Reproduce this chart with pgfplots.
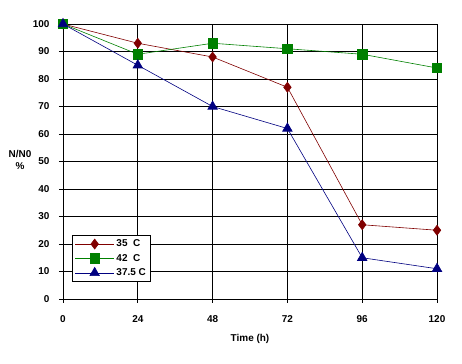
\documentclass[border=0pt]{standalone}
\usepackage{fontspec}
\setmainfont{Liberation Sans}
\usepackage{pgfplots}
\pgfplotsset{compat=1.18}
\definecolor{cRed}{RGB}{128,0,0}
\definecolor{cGreen}{RGB}{0,128,0}
\definecolor{cBlue}{RGB}{0,0,128}
\begin{document}
\begin{tikzpicture}
\useasboundingbox (0,0) rectangle (462bp,364bp);
\begin{axis}[
  scale only axis,
  width=374bp, height=275bp,
  at={(63bp,65bp)}, anchor=south west,
  xmin=0, xmax=120, ymin=0, ymax=100,
  xtick={0,24,48,72,96,120},
  ytick={0,10,...,100},
  grid=major,
  grid style={black, line width=0.8bp},
  axis line style={black, line width=0.8bp},
  tick style={black, line width=0.8bp},
  tick align=outside,
  major tick length=4bp,
  xtick pos=bottom, ytick pos=left,
  font=\fontsize{10}{12}\selectfont\bfseries,
  /pgf/number format/assume math mode=true,
  ticklabel style={font=\fontsize{10}{12}\selectfont\bfseries},
  xticklabel style={yshift=-9bp},
  yticklabel style={xshift=-6bp},
  xlabel={Time (h)},
  xlabel style={yshift=-5bp},
  ylabel={N/N0\\\%},
  ylabel style={rotate=-90, at={(rel axis cs:-0.115,0.505)}, anchor=center, align=center},
  legend style={at={(rel axis cs:0.024,0.233)}, anchor=north west, draw=black, line width=0.8bp,
    font=\fontsize{10}{12}\selectfont\bfseries, inner sep=2.5bp, row sep=2bp},
  legend cell align=left,
  legend image code/.code={\draw[mark repeat=2,mark phase=2] plot coordinates {(0bp,0bp) (19.5bp,0bp) (39bp,0bp)};},
]
\addplot[cRed, line width=0.6bp, mark=diamond*, mark size=5bp, mark options={solid, fill=cRed, draw=cRed}]
  coordinates {(0,100) (24,93) (48,88) (72,77) (96,27) (120,25)};
\addlegendentry{35\ \ C}
\addplot[cGreen, line width=0.6bp, mark=square*, mark size=4.7bp, mark options={solid, fill=cGreen, draw=cGreen}]
  coordinates {(0,100) (24,89) (48,93) (72,91) (96,89) (120,84)};
\addlegendentry{42\ \ C}
\addplot[cBlue, line width=0.6bp, mark=triangle*, mark size=5.5bp, mark options={solid, fill=cBlue, draw=cBlue}]
  coordinates {(0,100) (24,85) (48,70) (72,62) (96,15) (120,11)};
\addlegendentry{37.5 C}
\end{axis}
\end{tikzpicture}
\end{document}
